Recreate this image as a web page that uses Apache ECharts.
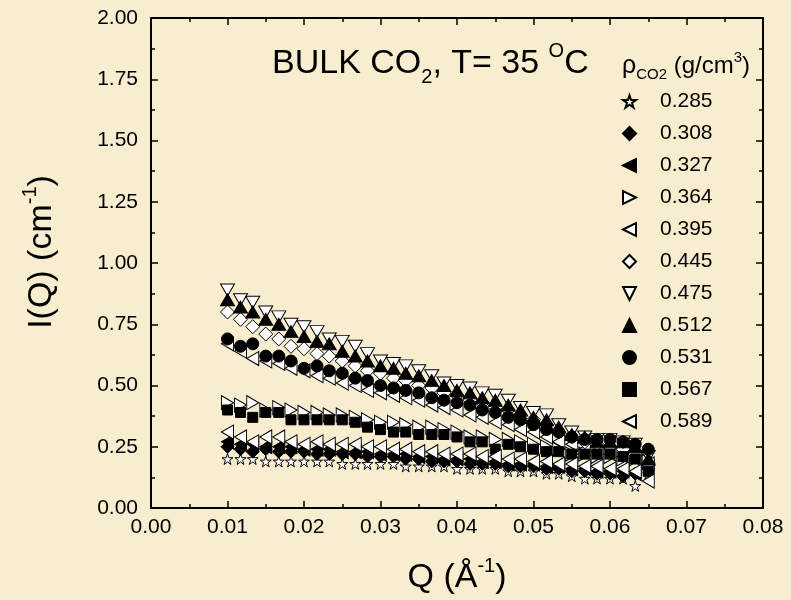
<!DOCTYPE html>
<html>
<head>
<meta charset="utf-8">
<script src="https://cdn.jsdelivr.net/npm/echarts@6/dist/echarts.min.js"></script>
<style>
html,body{margin:0;padding:0;background:#F9EDD0;}
#chart{width:791px;height:600px;}
</style>
</head>
<body>
<div id="chart"></div>
<script>
// ---- data ----
const Q = [0.0100, 0.0117, 0.0133, 0.0150, 0.0167, 0.0183, 0.0200, 0.0217, 0.0233, 0.0250,
           0.0267, 0.0283, 0.0300, 0.0317, 0.0333, 0.0350, 0.0367, 0.0383, 0.0400, 0.0417,
           0.0433, 0.0450, 0.0467, 0.0483, 0.0500, 0.0517, 0.0533, 0.0550, 0.0567, 0.0583,
           0.0600, 0.0617, 0.0633, 0.0650];

const densities = ['0.285', '0.308', '0.327', '0.364', '0.395', '0.445', '0.475', '0.512', '0.531', '0.567', '0.589'];

const I_0285 = [0.20, 0.20, 0.20, 0.19, 0.19, 0.19, 0.19, 0.19, 0.19, 0.18, 0.18, 0.18, 0.18, 0.18, 0.17, 0.17, 0.17,
                0.17, 0.16, 0.16, 0.16, 0.16, 0.15, 0.15, 0.15, 0.14, 0.14, 0.13, 0.12, 0.12, 0.12, 0.12, 0.09, 0.14];
const I_0308 = [0.25, 0.24, 0.23, 0.24, 0.23, 0.23, 0.23, 0.22, 0.22, 0.22, 0.22, 0.21, 0.21, 0.21, 0.20, 0.20, 0.19,
                0.19, 0.19, 0.18, 0.18, 0.18, 0.17, 0.17, 0.17, 0.16, 0.16, 0.15, 0.15, 0.14, 0.14, 0.13, 0.14, 0.16];
const I_0327 = [0.27, 0.26, 0.26, 0.25, 0.25, 0.25, 0.24, 0.24, 0.24, 0.23, 0.23, 0.23, 0.22, 0.22, 0.22, 0.21, 0.21,
                0.20, 0.20, 0.20, 0.19, 0.19, 0.18, 0.18, 0.18, 0.17, 0.17, 0.16, 0.16, 0.15, 0.15, 0.15, 0.14, 0.17];
const I_0364 = [0.43, 0.42, 0.43, 0.40, 0.41, 0.40, 0.39, 0.39, 0.38, 0.38, 0.37, 0.36, 0.35, 0.35, 0.34, 0.33, 0.33,
                0.32, 0.31, 0.29, 0.29, 0.28, 0.28, 0.27, 0.26, 0.25, 0.24, 0.22, 0.22, 0.21, 0.21, 0.20, 0.20, 0.19];
const I_0395 = [0.67, 0.64, 0.61, 0.60, 0.59, 0.57, 0.56, 0.54, 0.53, 0.51, 0.50, 0.48, 0.47, 0.46, 0.45, 0.44, 0.42,
                0.41, 0.40, 0.38, 0.37, 0.35, 0.34, 0.32, 0.31, 0.29, 0.27, 0.26, 0.24, 0.23, 0.22, 0.21, 0.20, 0.18];
const I_0445 = [0.80, 0.77, 0.74, 0.71, 0.69, 0.66, 0.65, 0.63, 0.62, 0.60, 0.58, 0.56, 0.55, 0.53, 0.52, 0.50, 0.49,
                0.47, 0.46, 0.44, 0.43, 0.41, 0.40, 0.38, 0.36, 0.34, 0.31, 0.29, 0.27, 0.26, 0.25, 0.24, 0.22, 0.18];
const I_0475 = [0.89, 0.85, 0.84, 0.80, 0.78, 0.75, 0.74, 0.72, 0.69, 0.68, 0.66, 0.63, 0.60, 0.59, 0.58, 0.56, 0.54,
                0.51, 0.50, 0.49, 0.47, 0.46, 0.44, 0.41, 0.39, 0.38, 0.34, 0.31, 0.29, 0.28, 0.28, 0.27, 0.26, 0.21];
const I_0512 = [0.85, 0.82, 0.80, 0.77, 0.75, 0.72, 0.70, 0.68, 0.67, 0.64, 0.62, 0.60, 0.58, 0.57, 0.55, 0.54, 0.52,
                0.50, 0.48, 0.47, 0.45, 0.44, 0.42, 0.40, 0.37, 0.36, 0.33, 0.30, 0.29, 0.27, 0.27, 0.27, 0.25, 0.20];
const I_0531 = [0.69, 0.66, 0.67, 0.62, 0.62, 0.60, 0.57, 0.58, 0.56, 0.55, 0.53, 0.52, 0.50, 0.49, 0.48, 0.47, 0.45,
                0.44, 0.43, 0.42, 0.40, 0.39, 0.37, 0.36, 0.34, 0.32, 0.31, 0.29, 0.28, 0.28, 0.28, 0.27, 0.26, 0.24];
const I_0567 = [0.40, 0.39, 0.37, 0.39, 0.39, 0.36, 0.36, 0.36, 0.36, 0.36, 0.35, 0.33, 0.32, 0.31, 0.31, 0.30, 0.30,
                0.30, 0.29, 0.27, 0.27, 0.24, 0.26, 0.25, 0.24, 0.23, 0.23, 0.22, 0.22, 0.22, 0.22, 0.21, 0.20, 0.15];
const I_0589 = [0.31, 0.29, 0.27, 0.29, 0.29, 0.27, 0.26, 0.27, 0.26, 0.26, 0.26, 0.25, 0.25, 0.24, 0.24, 0.23, 0.23,
                0.22, 0.22, 0.22, 0.21, 0.21, 0.20, 0.20, 0.19, 0.19, 0.18, 0.18, 0.17, 0.17, 0.16, 0.16, 0.15, 0.11];

const xTicks = ['0.00', '0.01', '0.02', '0.03', '0.04', '0.05', '0.06', '0.07', '0.08'];
const yTicks = ['0.00', '0.25', '0.50', '0.75', '1.00', '1.25', '1.50', '1.75', '2.00'];

// ---- marker styles ----
const STAR = 'path://M50,0 L61.8,35.5 L99,35.5 L69,57.5 L80.5,93 L50,71 L19.5,93 L31,57.5 L1,35.5 L38.2,35.5 Z';
const LEFT = 'path://M0,50 L100,0 L100,100 Z';
const RIGHT = 'path://M100,50 L0,0 L0,100 Z';
const DOWN = 'path://M0,0 L100,0 L50,100 Z';
const UP = 'path://M50,0 L100,100 L0,100 Z';

const valuesList = [I_0285, I_0308, I_0327, I_0364, I_0395, I_0445, I_0475, I_0512, I_0531, I_0567, I_0589];
const markers = [
  {symbol: STAR,      size: [11, 11], fill: '#fff'},
  {symbol: 'diamond', size: [13, 13], fill: '#000'},
  {symbol: LEFT,      size: [12, 14], fill: '#000'},
  {symbol: RIGHT,     size: [12, 14], fill: '#fff'},
  {symbol: LEFT,      size: [12, 14], fill: '#fff'},
  {symbol: 'diamond', size: [14, 14], fill: '#fff'},
  {symbol: DOWN,      size: [14, 12], fill: '#fff'},
  {symbol: UP,        size: [14, 12], fill: '#000'},
  {symbol: 'circle',  size: [12, 12], fill: '#000'},
  {symbol: 'rect',    size: [10, 10], fill: '#000'},
  {symbol: LEFT,      size: [12, 14], fill: '#fff'}
];

const series = densities.map((name, k) => ({
  name: name,
  type: 'scatter',
  xAxisIndex: 0,
  yAxisIndex: 0,
  symbol: markers[k].symbol,
  symbolSize: markers[k].size,
  itemStyle: {color: markers[k].fill, borderColor: '#000', borderWidth: 1, opacity: 1},
  emphasis: {disabled: true},
  data: Q.map((q, i) => [q, valuesList[k][i]]),
  z: 3 + k
}));

const FONT = 'Liberation Sans, Arial, sans-serif';
const axisCommon = {
  axisLine: {show: true, onZero: false, lineStyle: {color: '#000', width: 2}},
  axisTick: {show: true, inside: true, length: 7, lineStyle: {color: '#000', width: 1.5}},
  minorTick: {show: true, splitNumber: 2, length: 4, lineStyle: {color: '#000', width: 1.5}},
  splitLine: {show: false}
};

const chart = echarts.init(document.getElementById('chart'));
chart.setOption({
  backgroundColor: '#F9EDD0',
  animation: false,
  grid: {left: 151, right: 28, top: 18, bottom: 92, containLabel: false},
  xAxis: [
    Object.assign({
      type: 'value', position: 'bottom', min: 0, max: 0.08, interval: 0.01,
      axisLabel: {color: '#000', fontFamily: FONT, fontSize: 21, margin: 9,
                  formatter: (v) => xTicks[Math.round(v / 0.01)]}
    }, axisCommon),
    Object.assign({
      type: 'value', position: 'top', min: 0, max: 0.08, interval: 0.01,
      axisLabel: {show: false}
    }, axisCommon)
  ],
  yAxis: [
    Object.assign({
      type: 'value', position: 'left', min: 0, max: 2, interval: 0.25,
      axisLabel: {color: '#000', fontFamily: FONT, fontSize: 21, margin: 13,
                  formatter: (v) => yTicks[Math.round(v / 0.25)]}
    }, axisCommon),
    Object.assign({
      type: 'value', position: 'right', min: 0, max: 2, interval: 0.25,
      axisLabel: {show: false}
    }, axisCommon)
  ],
  legend: {
    orient: 'vertical',
    left: 617,
    top: 86,
    itemWidth: 13,
    itemHeight: 13,
    itemGap: 11,
    selectedMode: false,
    data: densities,
    textStyle: {color: '#000', fontFamily: FONT, fontSize: 21, lineHeight: 21, padding: [0, 0, 0, 19]}
  },
  graphic: [
    {
      type: 'text', left: 272, top: 41, z: 10,
      style: {
        text: 'BULK CO{sub|2}, T= 35 {sup|O}C',
        fill: '#000', font: '34px ' + FONT,
        rich: {
          sub: {fontSize: 20, fontFamily: FONT, fill: '#000', lineHeight: 20, verticalAlign: 'bottom'},
          sup: {fontSize: 20, fontFamily: FONT, fill: '#000', lineHeight: 20, verticalAlign: 'top'}
        },
        lineHeight: 46
      }
    },
    {
      type: 'text', left: 622, top: 50, z: 10,
      style: {
        text: '{r|ρ}{sub|CO2} (g/cm{sup|3})',
        fill: '#000', font: '24px ' + FONT,
        rich: {
          r: {fontSize: 25, fontFamily: FONT, fill: '#000', lineHeight: 32},
          sub: {fontSize: 15, fontFamily: FONT, fill: '#000', lineHeight: 15, verticalAlign: 'bottom'},
          sup: {fontSize: 15, fontFamily: FONT, fill: '#000', lineHeight: 15, verticalAlign: 'top'}
        },
        lineHeight: 32
      }
    },
    {
      type: 'text', x: 457, y: 578, z: 10,
      style: {
        text: 'Q (Å{sup|-1})',
        fill: '#000', font: '34px ' + FONT, align: 'center', verticalAlign: 'middle',
        rich: {
          sup: {fontSize: 20, fontFamily: FONT, fill: '#000', lineHeight: 20, verticalAlign: 'top'}
        },
        lineHeight: 44
      }
    },
    {
      type: 'text', x: 42, y: 252, rotation: Math.PI / 2, z: 10,
      style: {
        text: 'I(Q) (cm{sup|-1})',
        fill: '#000', font: '34px ' + FONT, align: 'center', verticalAlign: 'middle',
        rich: {
          sup: {fontSize: 20, fontFamily: FONT, fill: '#000', lineHeight: 20, verticalAlign: 'top'}
        },
        lineHeight: 44
      }
    }
  ],
  series: series
});
</script>
</body>
</html>
